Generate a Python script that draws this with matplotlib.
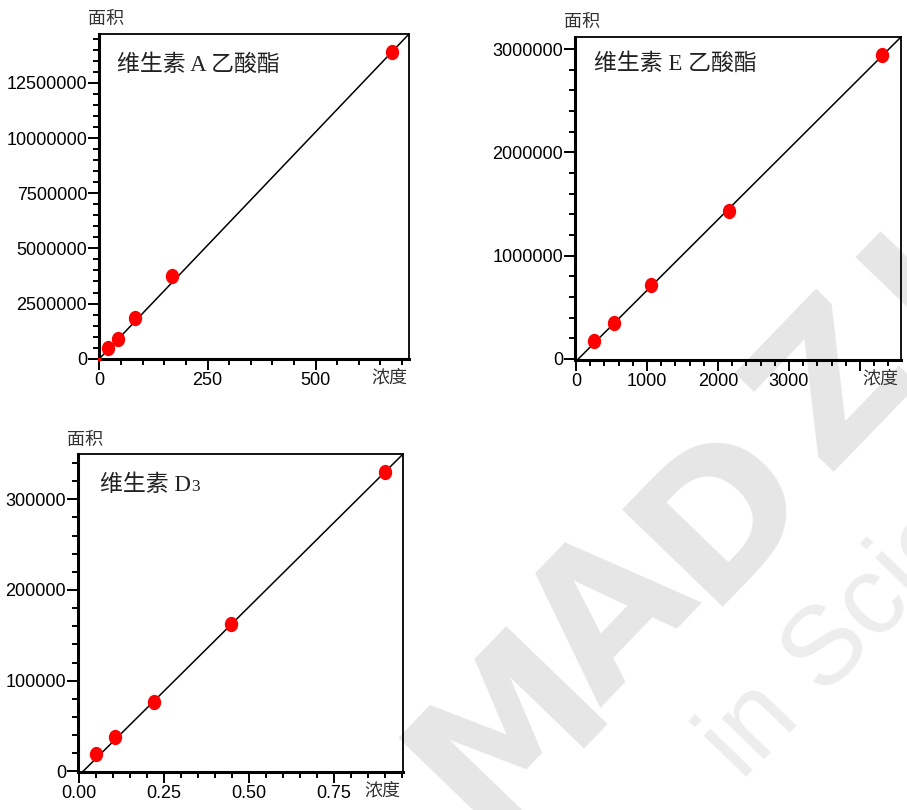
import numpy as np
import matplotlib
matplotlib.use('Agg')
import matplotlib.pyplot as plt
from matplotlib.ticker import MultipleLocator, FuncFormatter
from matplotlib.path import Path
from matplotlib import font_manager

# vitamin A acetate
a_conc = [20, 42, 83, 168, 676]
a_area = [480000, 906000, 1840000, 3730000, 13920000]
a_fit_x = [0, 716]
a_fit_y = [0, 14720000]

# vitamin E acetate
e_conc = [258, 535, 1061, 2159, 4314]
e_area = [174000, 352000, 714000, 1437000, 2943000]
e_fit_x = [32, 4577]
e_fit_y = [0, 3117000]

# vitamin D3
d_conc = [0.050, 0.106, 0.221, 0.446, 0.900]
d_area = [19500, 37900, 76500, 162000, 330500]
d_fit_x = [0.013, 0.953]
d_fit_y = [0, 350000]

titles = ['维生素 A 乙酸酯', '维生素 E 乙酸酯', '维生素 D']
ylab = '面积'
xlab = '浓度'

# watermark letters that fall inside the picture (centres in pixels)
wm_letters = ['M', 'A', 'D', 'Z', 'U']
wm_x = [510, 612, 722, 835, 955]
wm_y = [730, 618, 513, 385, 262]

W, H = 907, 810
fig = plt.figure(figsize=(W / 100, H / 100), dpi=100)

names = {f.name for f in font_manager.fontManager.ttflist}
if 'Liberation Sans Narrow' in names:
    tick_font, tick_size = 'Liberation Sans Narrow', 14.5
else:
    tick_font, tick_size = 'Liberation Sans', 13
cjk = 'Noto Sans CJK SC'
title_fam = ['Liberation Serif', cjk]

# oval red marker, a bit taller than wide
circ = Path.unit_circle()
oval = Path(circ.vertices * [0.86, 1.0], circ.codes)


def panel(box, conc, area, fx, fy, xlim, ylim, xmaj, xmin, ymaj, ymin, xfmt, title, tpos):
    l, t, r, b = box
    ax = fig.add_axes([l / W, 1 - b / H, (r - l) / W, (b - t) / H])
    ax.patch.set_visible(False)
    ax.plot(fx, fy, color='black', lw=1.1, zorder=2)
    ax.plot(conc, area, linestyle='none', marker=oval, ms=10, color='#ff0000',
            mec='#ff0000', zorder=3, clip_on=False)
    ax.set_xlim(xlim)
    ax.set_ylim(ylim)
    ax.xaxis.set_major_locator(MultipleLocator(xmaj))
    ax.xaxis.set_minor_locator(MultipleLocator(xmin))
    ax.yaxis.set_major_locator(MultipleLocator(ymaj))
    ax.yaxis.set_minor_locator(MultipleLocator(ymin))
    ax.xaxis.set_major_formatter(FuncFormatter(xfmt))
    ax.yaxis.set_major_formatter(FuncFormatter(lambda v, p: f'{abs(v):.0f}'))
    ax.tick_params(which='major', direction='out', length=8, width=1.4, pad=1.5,
                   labelsize=tick_size)
    ax.tick_params(which='minor', direction='out', length=4.5, width=1.4)
    ax.tick_params(axis='y', which='major', pad=0.5)
    for lab in ax.get_xticklabels() + ax.get_yticklabels():
        lab.set_family(tick_font)
    for s in ['left', 'bottom']:
        ax.spines[s].set_linewidth(2.2)
    for s in ['top', 'right']:
        ax.spines[s].set_linewidth(1.3)
    ax.text(0.023, 1.045, ylab, transform=ax.transAxes, ha='center', va='center',
            fontsize=13, family=cjk, color='#333333')
    ax.text(0.938, -0.058, xlab, transform=ax.transAxes, ha='center', va='center',
            fontsize=13, family=cjk, color='#333333')
    tt = ax.text(tpos[0], tpos[1], title, transform=ax.transAxes, ha='left', va='center',
                 fontsize=16.5, family=title_fam, color='#222222')
    return ax, tt


ax1, _ = panel((99, 34, 409, 359), a_conc, a_area, a_fit_x, a_fit_y,
               (-1, 716), (-15000, 14720000), 250, 50, 2500000, 500000,
               lambda v, p: f'{v:.0f}', titles[0], (0.058, 0.905))
ax1.plot([0], [0], linestyle='none', marker='s', ms=2, color='#ff0000', zorder=4, clip_on=False)

ax2, _ = panel((575, 37, 901, 360), e_conc, e_area, e_fit_x, e_fit_y,
               (-14, 4577), (-10000, 3117000), 1000, 200, 1000000, 200000,
               lambda v, p: '' if v > 3500 else f'{v:.0f}', titles[1], (0.058, 0.915))

ax3, t3 = panel((78, 454, 403, 772), d_conc, d_area, d_fit_x, d_fit_y,
                (-0.002, 0.9527), (-770, 350000), 0.25, 0.05, 100000, 20000,
                lambda v, p: '' if v > 0.9 else f'{v:.2f}', titles[2], (0.068, 0.902))
ax3.annotate('3', xy=(1, 0), xycoords=t3, xytext=(0.3, 0.8), textcoords='offset points',
             ha='left', va='bottom', fontsize=12.5, family='Liberation Serif', color='#222222')

# faint watermark in the lower right, behind the axes
for ch, x, y in zip(wm_letters, wm_x, wm_y):
    fig.text(x / W, 1 - y / H, ch, fontsize=138, fontweight='bold', family='DejaVu Sans',
             color='#e6e6e6', rotation=46, rotation_mode='anchor',
             ha='center', va='center', zorder=-1)
fig.text(742 / W, 1 - 782 / H, 'in Science', fontsize=80, family='Liberation Sans',
         color='#ededed', rotation=46, rotation_mode='anchor', ha='left', va='baseline',
         zorder=-1)

fig.savefig('out.png', dpi=100)
